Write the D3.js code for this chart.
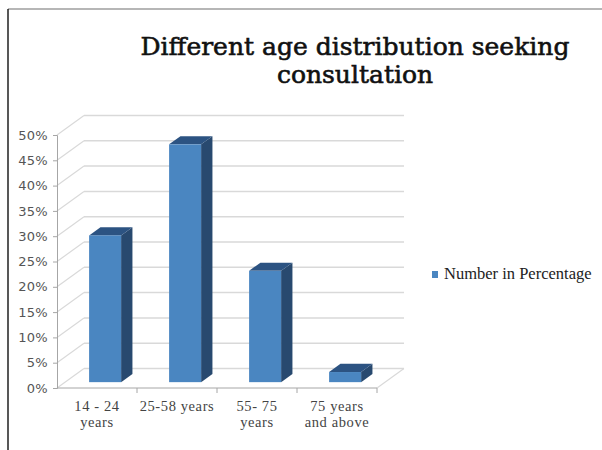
<!DOCTYPE html>
<html>
<head>
<meta charset="utf-8">
<script src="https://cdn.jsdelivr.net/npm/d3@7.9.0/dist/d3.min.js"></script>
<style>
  html, body { margin: 0; padding: 0; background: #fff; }
  svg { display: block; }
</style>
</head>
<body>
<div id="chart"></div>
<script>
// chart data
const titleLines = ['Different age distribution seeking', 'consultation'];
const categories = ['14 - 24\nyears', '25-58 years', '55- 75\nyears', '75 years\nand above'];
const values = [29, 47, 22, 2];
const yTicks = [0, 5, 10, 15, 20, 25, 30, 35, 40, 45, 50];
const seriesName = 'Number in Percentage';

const width = 602, height = 450;

const svg = d3.select('#chart').append('svg')
    .attr('width', width)
    .attr('height', height);

// outer frame (cropped picture: top and left edge only)
svg.append('line')
    .attr('x1', 8).attr('y1', 9).attr('x2', width).attr('y2', 9)
    .attr('stroke', '#6e6e6e').attr('stroke-width', 1.2);
svg.append('line')
    .attr('x1', 8).attr('y1', 9).attr('x2', 8).attr('y2', height)
    .attr('stroke', '#111').attr('stroke-width', 1.4);

// title
svg.append('text')
    .attr('x', 355)
    .attr('text-anchor', 'middle')
    .style('font-family', '"DejaVu Serif", "Liberation Serif", serif')
    .style('font-size', '25px')
    .style('fill', '#111')
    .style('stroke', '#111')
    .style('stroke-width', '0.6px')
    .selectAll('tspan')
    .data(titleLines)
    .enter()
    .append('tspan')
    .attr('x', 355)
    .attr('y', (d, i) => 55 + i * 28)
    .text(d => d);

// 3D geometry: front plane scales + depth offset
const x = d3.scaleBand()
    .domain(categories)
    .range([57, 377])
    .paddingInner(0.6)
    .paddingOuter(0.3);

const y = d3.scaleLinear()
    .domain([0, 50])
    .range([388, 135]);

const depth = { dx: 27, dy: -19.5 };
const barFront = 0.3, barBack = 0.72;

const grid = svg.append('g');

// back wall gridlines + side wall diagonals
yTicks.forEach(t => {
    grid.append('line')
        .attr('x1', 57 + depth.dx).attr('y1', y(t) + depth.dy)
        .attr('x2', 377 + depth.dx).attr('y2', y(t) + depth.dy)
        .attr('stroke', '#d9d9d9').attr('stroke-width', 1.5);
    grid.append('line')
        .attr('x1', 57).attr('y1', y(t))
        .attr('x2', 57 + depth.dx).attr('y2', y(t) + depth.dy)
        .attr('stroke', '#d9d9d9').attr('stroke-width', 1.2);
});

// floor right edge
grid.append('line')
    .attr('x1', 377).attr('y1', y(0))
    .attr('x2', 377 + depth.dx).attr('y2', y(0) + depth.dy)
    .attr('stroke', '#d9d9d9').attr('stroke-width', 1.2);

// front axes
const yAxis = d3.axisLeft(y)
    .tickValues(yTicks)
    .tickSize(4)
    .tickPadding(5)
    .tickFormat(d => d + '%');

const yAxisG = svg.append('g')
    .attr('transform', 'translate(57,0)')
    .call(yAxis);
yAxisG.select('.domain').attr('stroke', '#a6a6a6');
yAxisG.selectAll('.tick line').attr('stroke', '#a6a6a6');
yAxisG.selectAll('.tick text')
    .style('font-family', '"DejaVu Sans", Verdana, sans-serif')
    .style('font-size', '13px')
    .style('letter-spacing', '0.3px')
    .style('fill', '#555');

const xAxisG = svg.append('g')
    .attr('transform', `translate(0,${y(0)})`);
xAxisG.append('line')
    .attr('x1', 57).attr('x2', 377)
    .attr('stroke', '#a6a6a6');
const step = x.step();
d3.range(1, categories.length + 1).forEach(i => {
    const tx = 57 + x.paddingOuter() * step - x.paddingInner() * step / 2 + i * step;
    xAxisG.append('line')
        .attr('x1', tx).attr('x2', tx)
        .attr('y1', 0).attr('y2', 5)
        .attr('stroke', '#a6a6a6');
});

// category labels (wrapped)
categories.forEach(c => {
    const t = svg.append('text')
        .attr('text-anchor', 'middle')
        .style('font-family', '"Liberation Serif", "DejaVu Serif", serif')
        .style('font-size', '14.5px')
        .style('letter-spacing', '0.6px')
        .style('fill', '#444');
    c.split('\n').forEach((line, i) => {
        t.append('tspan')
            .attr('x', x(c) + x.bandwidth() / 2)
            .attr('y', 411 + i * 16)
            .text(line);
    });
});

// bars
const bars = svg.append('g');
categories.forEach((c, i) => {
    const v = values[i];
    const fx0 = x(c) + barFront * depth.dx;
    const fx1 = fx0 + x.bandwidth();
    const fyb = y(0) + barFront * depth.dy;
    const fyt = y(v) + barFront * depth.dy;
    const ddx = (barBack - barFront) * depth.dx;
    const ddy = (barBack - barFront) * depth.dy;

    // side face
    bars.append('path')
        .attr('d', `M${fx1},${fyb} L${fx1 + ddx},${fyb + ddy} L${fx1 + ddx},${fyt + ddy} L${fx1},${fyt} Z`)
        .attr('fill', '#28496f');
    // top face
    bars.append('path')
        .attr('d', `M${fx0},${fyt} L${fx0 + ddx},${fyt + ddy} L${fx1 + ddx},${fyt + ddy} L${fx1},${fyt} Z`)
        .attr('fill', '#2c5382');
    // front face
    bars.append('rect')
        .attr('x', fx0)
        .attr('y', fyt)
        .attr('width', x.bandwidth())
        .attr('height', fyb - fyt)
        .attr('fill', '#4a86c1');
});

// legend
svg.append('rect')
    .attr('x', 432).attr('y', 271)
    .attr('width', 6).attr('height', 7)
    .attr('fill', '#4a86c1');
svg.append('text')
    .attr('x', 444).attr('y', 279)
    .style('font-family', '"Liberation Serif", "DejaVu Serif", serif')
    .style('font-size', '16.5px')
    .style('fill', '#222')
    .text(seriesName);
</script>
</body>
</html>
